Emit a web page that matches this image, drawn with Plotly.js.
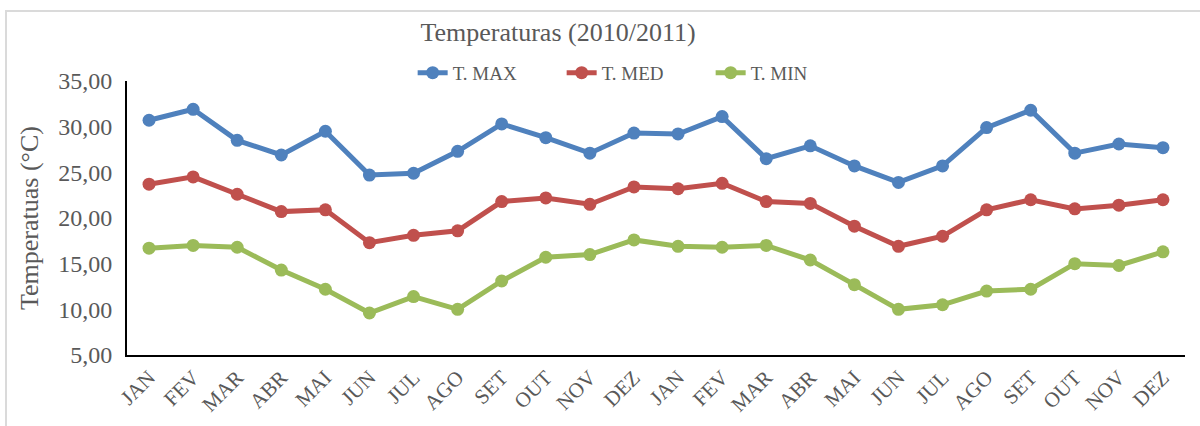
<!DOCTYPE html>
<html>
<head>
<meta charset="utf-8">
<script src="https://cdn.plot.ly/plotly-3.0.1.min.js"></script>
<style>
html,body{margin:0;padding:0;background:#fff;}
#wrap{position:relative;width:1200px;height:426px;overflow:hidden;}
#chart{position:absolute;left:0;top:0;width:1200px;height:426px;}
#frame{position:absolute;left:5px;top:10px;width:1210px;height:430px;border:2px solid #dadada;pointer-events:none;box-sizing:border-box;}
</style>
</head>
<body>
<div id="wrap"><div id="chart"></div><div id="frame"></div></div>
<script>
const months = ["JAN","FEV","MAR","ABR","MAI","JUN","JUL","AGO","SET","OUT","NOV","DEZ",
                "JAN","FEV","MAR","ABR","MAI","JUN","JUL","AGO","SET","OUT","NOV","DEZ"];
const tMax = [30.7,31.9,28.5,26.9,29.5,24.7,24.9,27.3,30.3,28.8,27.1,29.3,
              29.2,31.1,26.5,27.9,25.7,23.9,25.7,29.9,31.8,27.1,28.1,27.7];
const tMed = [23.7,24.5,22.6,20.7,20.9,17.3,18.1,18.6,21.8,22.2,21.5,23.4,
              23.2,23.8,21.8,21.6,19.1,16.9,18.0,20.9,22.0,21.0,21.4,22.0];
const tMin = [16.7,17.0,16.8,14.3,12.2,9.6,11.4,10.0,13.1,15.7,16.0,17.6,
              16.9,16.8,17.0,15.4,12.7,10.0,10.5,12.0,12.2,15.0,14.8,16.3];
const seriesNames = ["T. MAX","T. MED","T. MIN"];
const colors = ["#4F81BD","#C0504D","#9BBB59"];

const idx = months.map((_, i) => i);
const data = [tMax, tMed, tMin].map((ys, k) => ({
  type: "scatter",
  mode: "lines+markers",
  x: idx,
  y: ys,
  name: seriesNames[k],
  line: {color: colors[k], width: 5},
  marker: {color: colors[k], size: 13}
}));

const layout = {
  width: 1200, height: 426,
  margin: {l: 127, r: 15, t: 81, b: 71},
  paper_bgcolor: "rgba(0,0,0,0)",
  plot_bgcolor: "rgba(0,0,0,0)",
  separators: ",.",
  font: {family: "Liberation Serif, Times New Roman, serif", color: "#595959"},
  title: {
    text: "Temperaturas (2010/2011)",
    font: {size: 26, color: "#595959", family: "Liberation Serif, serif"},
    xref: "container", x: 0.465, xanchor: "center",
    yref: "container", y: 0.925, yanchor: "middle"
  },
  showlegend: true,
  legend: {
    orientation: "h",
    xref: "paper", x: 0.27, xanchor: "left",
    yref: "paper", y: 1.03, yanchor: "middle",
    font: {size: 19, color: "#595959"},
    entrywidth: 104,
    entrywidthmode: "pixels",
    tracegroupgap: 0,
    bgcolor: "rgba(0,0,0,0)"
  },
  xaxis: {
    range: [-0.5, 23.5],
    tickmode: "array",
    tickvals: idx,
    ticktext: months,
    tickangle: -45,
    tickfont: {size: 21, color: "#595959"},
    showgrid: false,
    zeroline: false,
    showline: true,
    linecolor: "#000",
    linewidth: 2,
    ticks: "",
    fixedrange: true
  },
  yaxis: {
    range: [5, 35],
    dtick: 5,
    tick0: 5,
    tickformat: ".2f",
    tickfont: {size: 24, color: "#595959"},
    ticklabelstandoff: 8,
    showgrid: false,
    zeroline: false,
    showline: true,
    linecolor: "#000",
    linewidth: 2,
    ticks: "",
    ticklen: 0,
    title: {text: "Temperatuas (°C)", font: {size: 26, color: "#595959"}, standoff: 12},
    fixedrange: true
  }
};

Plotly.newPlot("chart", data, layout, {displayModeBar: false, staticPlot: true});
</script>
</body>
</html>
